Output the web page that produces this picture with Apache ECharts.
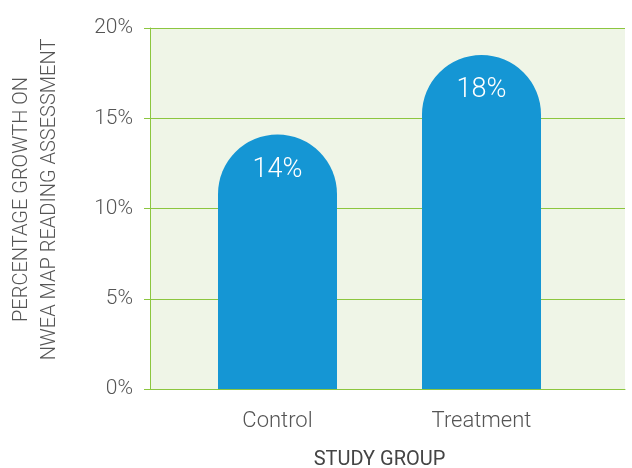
<!DOCTYPE html>
<html><head><meta charset="utf-8">
<script src="https://cdn.jsdelivr.net/npm/echarts@6/dist/echarts.min.js"></script>
<style>html,body{margin:0;padding:0;background:#fff}#c{width:632px;height:468px}</style>
</head><body><div id="c"></div>
<script>
var categories = ['Control', 'Treatment'];
var values = [14.1, 18.5];
var valueLabels = ['14%', '18%'];
var yTicks = [0, 5, 10, 15, 20];

var green = '#8cc63f';
var chart = echarts.init(document.getElementById('c'));
chart.setOption({
  animation: false,
  textStyle: { fontFamily: 'Roboto', fontWeight: 300 },
  grid: [
    { left: 150, right: 7, top: 28, bottom: 79, show: true, backgroundColor: '#eff5e7', borderWidth: 0, containLabel: false, outerBoundsMode: 'none' },
    { left: 175.5, right: 48.5, top: 28, bottom: 79, containLabel: false, outerBoundsMode: 'none' }
  ],
  xAxis: [
    { gridIndex: 0, type: 'category', data: [''], boundaryGap: true,
      axisLine: { lineStyle: { color: green, width: 1 } },
      axisTick: { length: 12, lineStyle: { color: green } },
      axisLabel: { show: false } },
    { gridIndex: 1, type: 'category', data: categories,
      axisLine: { show: false }, axisTick: { show: false },
      axisLabel: { color: '#555', fontSize: 22, fontWeight: 300, margin: 21 },
      name: 'STUDY GROUP', nameLocation: 'middle', nameGap: 61,
      nameTextStyle: { color: '#444', fontSize: 20, fontWeight: 400 } }
  ],
  yAxis: [
    { gridIndex: 0, type: 'value', min: 0, max: 20, interval: 5,
      axisLine: { show: true, lineStyle: { color: green } },
      axisTick: { show: true, length: 6, lineStyle: { color: green } },
      splitLine: { lineStyle: { color: green, width: 1 } },
      axisLabel: { color: '#555', fontSize: 21, fontWeight: 300, margin: 17,
        formatter: function (v) { return yTicks.indexOf(v) >= 0 ? v + '%' : ''; } },
      name: 'PERCENTAGE GROWTH ON\nNWEA MAP READING ASSESSMENT',
      nameLocation: 'middle', nameRotate: 90, nameGap: 86,
      nameTextStyle: { color: '#555', fontSize: 20, fontWeight: 300, lineHeight: 28, align: 'center', padding: [0, 0, 0, 18] } },
    { gridIndex: 1, type: 'value', min: 0, max: 20, interval: 5, show: false }
  ],
  series: [{
    type: 'bar', xAxisIndex: 1, yAxisIndex: 1, data: values, barWidth: 119,
    itemStyle: { color: '#1596d4', borderRadius: [59.5, 59.5, 0, 0] },
    label: { show: true, position: 'insideTop', distance: 22, color: '#fff', fontSize: 27, fontWeight: 300,
      formatter: function (p) { return valueLabels[p.dataIndex]; } }
  }]
});
</script></body></html>
